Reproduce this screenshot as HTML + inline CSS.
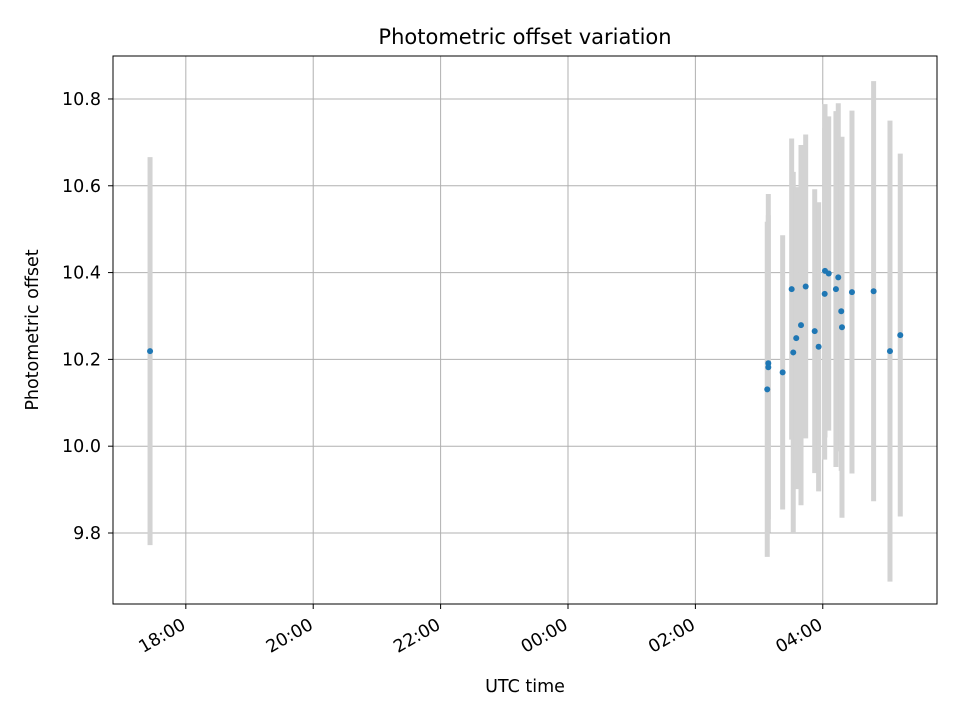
<!DOCTYPE html>
<html><head><meta charset="utf-8"><style>
body{margin:0;background:#fff}
svg{display:block;font-family:"DejaVu Sans","Liberation Sans",sans-serif}
</style></head><body>
<svg id="chart" width="960" height="720">
<rect width="960" height="720" fill="#fff"/>
<text x="525" y="44" font-size="21" text-anchor="middle">Photometric offset variation</text>
<g id="grid"></g><g id="bars"></g><g id="pts"></g><g id="axes"></g>
<text x="525" y="692" font-size="17.5" text-anchor="middle">UTC time</text>
<text transform="translate(38,330) rotate(-90)" font-size="17.5" text-anchor="middle">Photometric offset</text>
</svg>
<script>
// minutes relative to 00:00 UTC
const times = [-393.7,187.7,188.7,188.7,202.2,210.7,212.2,215.0,219.5,223.9,232.4,236.1,241.8,242.1,245.6,252.4,254.6,257.4,258.1,267.5,287.9,303.3,313.0];
const offsets = [10.219,10.131,10.191,10.182,10.170,10.362,10.216,10.249,10.279,10.368,10.265,10.229,10.351,10.404,10.398,10.362,10.389,10.311,10.274,10.355,10.357,10.219,10.256];
const errors = [0.447,0.386,0.39,0.35,0.316,0.347,0.416,0.348,0.415,0.350,0.327,0.333,0.382,0.384,0.362,0.41,0.401,0.368,0.439,0.418,0.484,0.531,0.418];
const xTickMins = [-360,-240,-120,0,120,240];
const xTickLabels = ["18:00","20:00","22:00","00:00","02:00","04:00"];
const yTicks = [9.8,10.0,10.2,10.4,10.6,10.8];
const yTickLabels = ["9.8","10.0","10.2","10.4","10.6","10.8"];

const L=113,R=937,T=56,B=604;
const xMin=-428.6,xMax=347.6,yMin=9.6364,yMax=10.899;
const X=m=>L+(m-xMin)/(xMax-xMin)*(R-L);
const Y=v=>B-(v-yMin)/(yMax-yMin)*(B-T);
const NS="http://www.w3.org/2000/svg";
function mk(tag,attrs,parent){const e=document.createElementNS(NS,tag);for(const k in attrs)e.setAttribute(k,attrs[k]);document.getElementById(parent).appendChild(e);return e;}

xTickMins.forEach((m,i)=>{
  const x=X(m);
  const g=mk('line',{x1:x,x2:x,y1:T,y2:B,stroke:'#b0b0b0','stroke-width':1},'grid');
  
  
  const t=mk('line',{x1:x,x2:x,y1:B,y2:B+5,stroke:'#000','stroke-width':1},'axes');
  
  
  const lb=mk('text',{x:0,y:0,'font-size':17.5,'text-anchor':'end',transform:`translate(${x+1},${B+24}) rotate(-30)`},'axes');
  lb.textContent=xTickLabels[i];
  
  
});
yTicks.forEach((v,i)=>{
  const y=Y(v);
  const g=mk('line',{x1:L,x2:R,y1:y,y2:y,stroke:'#b0b0b0','stroke-width':1},'grid');
  
  
  const t=mk('line',{x1:L-5,x2:L,y1:y,y2:y,stroke:'#000','stroke-width':1},'axes');
  
  
  const lb=mk('text',{x:L-12,y:y+6,'font-size':17.5,'text-anchor':'end'},'axes');
  lb.textContent=yTickLabels[i];
  
  
});
times.forEach((m,i)=>{
  const x=X(m);
  const b=mk('line',{x1:x,x2:x,y1:Y(offsets[i]+errors[i]),y2:Y(offsets[i]-errors[i]),stroke:'#d3d3d3','stroke-width':5},'bars');
  
  
  const c=mk('circle',{cx:x,cy:Y(offsets[i]),r:3,fill:'#1f77b4'},'pts');
  
  
});
const fr=mk('rect',{x:L,y:T,width:R-L,height:B-T,fill:'none',stroke:'#000','stroke-width':1},'axes');


</script>
</body></html>
